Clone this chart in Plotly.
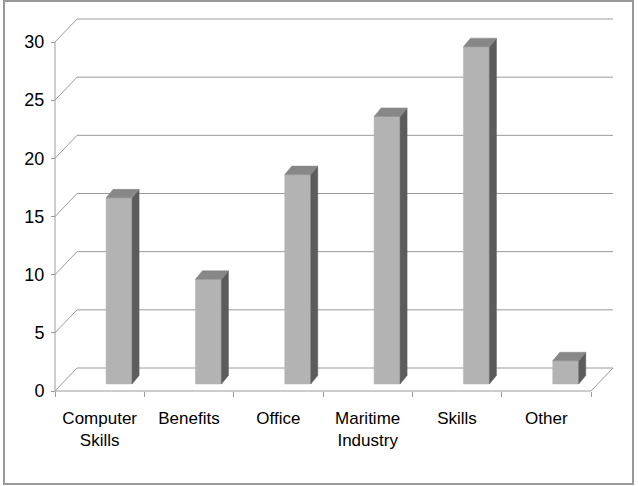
import plotly.graph_objects as go

# ---- data ----
categories = ["Computer<br>Skills", "Benefits", "Office", "Maritime<br>Industry", "Skills", "Other"]
values = [16, 9, 18, 23, 29, 2]
y_ticks = [0, 5, 10, 15, 20, 25, 30]

# ---- geometry / style ----
W, H = 638, 486
PX_CAT = 89.33      # pixels per category
PX_VAL = 11.633     # pixels per value unit
OX = 22 / PX_CAT    # wall depth (x, in category units)
OY = 23 / PX_VAL    # wall depth (y, in value units)
PAD = 2

L, R, T, B = 55 - PAD, 638 - 613 - PAD, 19 - PAD, 486 - 391 - PAD
plot_w = W - L - R
plot_h = H - T - B

n = len(categories)
x0 = -0.5 - PAD / PX_CAT
x1 = n - 0.5 + OX + PAD / PX_CAT
y0 = -PAD / PX_VAL
y1 = max(y_ticks) + OY + PAD / PX_VAL

GRID = "#9a9a9a"
FRONT = "#b3b3b3"
SIDE = "#5c5c5c"
TOP = "#878787"
FONT = "Liberation Sans Narrow, Arial Narrow, Liberation Sans, Arial, sans-serif"

shapes = []
left = -0.5
right = n - 0.5
for v in y_ticks:
    shapes.append(dict(type="line", xref="x", yref="y", x0=left, y0=v, x1=left + OX, y1=v + OY,
                       line=dict(color=GRID, width=1), layer="below"))
    shapes.append(dict(type="line", xref="x", yref="y", x0=left + OX, y0=v + OY, x1=right + OX, y1=v + OY,
                       line=dict(color=GRID, width=1), layer="below"))
# floor front edge and right edge
shapes.append(dict(type="line", xref="x", yref="y", x0=left, y0=0, x1=right, y1=0,
                   line=dict(color=GRID, width=1), layer="below"))
shapes.append(dict(type="line", xref="x", yref="y", x0=right, y0=0, x1=right + OX, y1=OY,
                   line=dict(color=GRID, width=1), layer="below"))
# front value axis line
shapes.append(dict(type="line", xref="x", yref="y", x0=left, y0=0, x1=left, y1=max(y_ticks),
                   line=dict(color=GRID, width=1), layer="below"))
# outer border
shapes.append(dict(type="rect", xref="paper", yref="paper",
                   x0=(4 - L) / plot_w, x1=(633 - L) / plot_w,
                   y0=(H - B - 484) / plot_h, y1=(H - B - 1) / plot_h,
                   line=dict(color="#999999", width=2)))

fig = go.Figure()

BX0, BX1 = 0.072, 0.363     # bar front face offsets within category
BASE = 7 / PX_VAL           # bar base lift
DX = 7 / PX_CAT
DY = 8.5 / PX_VAL

def poly(xs, ys, color):
    fig.add_trace(go.Scatter(x=xs + [xs[0]], y=ys + [ys[0]], mode="lines", fill="toself",
                             fillcolor=color, line=dict(color=color, width=0.5),
                             hoverinfo="skip", showlegend=False))

for i, v in enumerate(values):
    fx0, fx1 = i + BX0, i + BX1
    b, t = BASE, BASE + v
    poly([fx0, fx1, fx1, fx0], [b, b, t, t], FRONT)
    poly([fx1, fx1 + DX, fx1 + DX, fx1], [b, b + DY, t + DY, t], SIDE)
    poly([fx0, fx1, fx1 + DX, fx0 + DX], [t, t, t + DY, t + DY], TOP)

fig.update_layout(
    width=W, height=H,
    margin=dict(l=L, r=R, t=T, b=B),
    paper_bgcolor="white", plot_bgcolor="white",
    shapes=shapes,
    showlegend=False,
    font=dict(family=FONT, size=18, color="black"),
    xaxis=dict(range=[x0, x1], showgrid=False, zeroline=False, showline=False,
               tickmode="array", tickvals=list(range(n)), ticktext=categories,
               ticks="", anchor="free", position=PAD / plot_h,
               tickfont=dict(size=17), ticklabelstandoff=15,
               minor=dict(tickmode="array", tickvals=[k - 0.5 for k in range(n + 1)],
                          ticks="outside", ticklen=5, tickcolor=GRID, tickwidth=1)),
    yaxis=dict(range=[y0, y1], showgrid=False, zeroline=False, showline=False,
               tickmode="array", tickvals=y_ticks, ticks="outside", ticklen=4,
               tickcolor=GRID, anchor="free", position=PAD / plot_w,
               tickfont=dict(size=18), ticklabelstandoff=3),
)

fig.write_html("out.html")
